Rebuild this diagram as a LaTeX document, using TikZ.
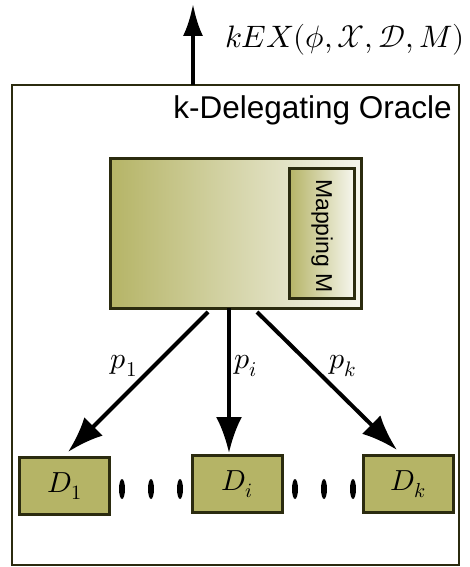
\documentclass[tikz,border=0pt]{standalone}
\usepackage{fontspec}
\setmainfont{Liberation Sans}
\usepackage{unicode-math}
\setmathfont{Latin Modern Math}
\usetikzlibrary{arrows.meta,shapes.geometric}
\definecolor{olive}{RGB}{181,180,102}
\definecolor{darkb}{RGB}{43,43,15}
\definecolor{paleend}{RGB}{246,246,238}
\tikzset{
  dbox/.style={draw=darkb,line width=3pt,fill=olive,minimum width=90pt,minimum height=57pt,inner sep=0pt},
  conn/.style={line width=4pt,-{Latex[length=36pt,width=26pt]}},
  dot/.style={fill=black,ellipse,minimum width=6pt,minimum height=20pt,inner sep=0pt},
  plab/.style={font=\fontsize{30}{34}\selectfont}
}
\begin{document}
\begin{tikzpicture}[x=1pt,y=-1pt]
\useasboundingbox (0,0) rectangle (469,567);
% outer oracle box
\draw[draw=darkb,line width=2.5pt] (12,85) rectangle (459,565);
\node[anchor=base east,font=\fontsize{31.5}{34}\selectfont,inner sep=0pt] (title) at (452,118) {k-Delegating Oracle};
% output arrow
\coordinate (outbase) at (193,85);
\coordinate (outtip) at (193,4);
\draw[line width=4pt,-{Latex[length=32pt,width=20pt]}] (outbase) -- (outtip);
\node[anchor=east,font=\fontsize{31}{34}\selectfont,inner sep=0pt] (out) at (465,40) {$kEX(\phi,\mathcal{X},\mathcal{D},M)$};
% main box with gradient
\node[draw=darkb,line width=3pt,left color=olive,right color=paleend,minimum width=251pt,minimum height=150pt,inner sep=0pt] (main) at (235.5,233) {};
\node[draw=darkb,line width=3pt,left color=olive,right color=paleend,minimum width=65pt,minimum height=130pt,inner sep=0pt] (map) at (321.5,233) {};
\node[rotate=-90,font=\fontsize{23}{25}\selectfont] (maplab) at (322,236) {Mapping M};
% D boxes
\node[dbox] (d1) at (64.5,486) {\fontsize{29}{32}\selectfont$D_1$};
\node[dbox] (di) at (237.5,484) {\fontsize{29}{32}\selectfont$D_i$};
\node[dbox] (dk) at (408,484) {\fontsize{29}{32}\selectfont$D_k$};
% dots
\foreach \x/\n in {122/a,151/b,180/c,295/d,324/e,353/f}{
  \node[dot] (dot\n) at (\x,489) {};
}
% connectors
\coordinate (s1) at (208,312);
\coordinate (si) at (229,308);
\coordinate (sk) at (257,312);
\coordinate (t1) at (68,452);
\coordinate (ti) at (229,453);
\coordinate (tk) at (397,450);
\draw[conn] (s1) -- (t1);
\draw[conn] (si) -- (ti);
\draw[conn] (sk) -- (tk);
\node[plab] (p1) at (124,366) {$p_1$};
\node[plab] (pi) at (246,366) {$p_i$};
\node[plab] (pk) at (343,366) {$p_k$};
\end{tikzpicture}
\end{document}
